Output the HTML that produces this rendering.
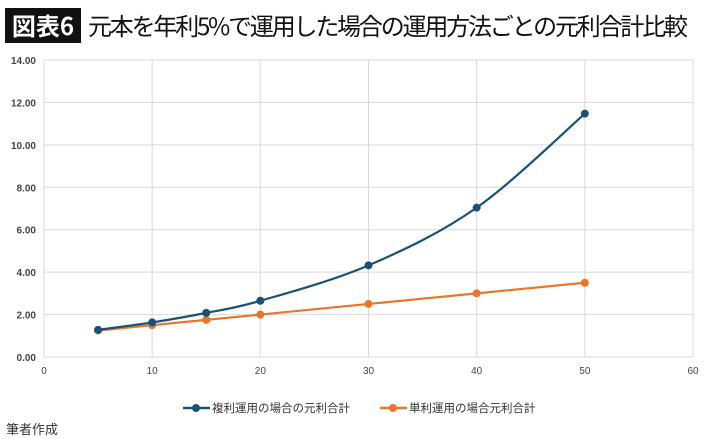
<!DOCTYPE html>
<html><head><meta charset="utf-8"><style>
body{margin:0;background:#fff;font-family:"Liberation Sans","Noto Sans CJK JP",sans-serif;}
#wrap{position:relative;width:710px;height:439px;overflow:hidden;background:#fff}
</style></head><body>
<div id="wrap">
<svg id="svg" width="710" height="439" xmlns="http://www.w3.org/2000/svg">
<rect x="5" y="8" width="76" height="35" fill="#111"/>
<text x="43" y="35" font-size="24" font-weight="bold" fill="#fff" text-anchor="middle" font-family="Noto Sans CJK JP, sans-serif">図表6</text>
<text x="88" y="35" font-size="24" fill="#111" font-family="Noto Sans CJK JP, sans-serif" textLength="600">元本を年利5%で運用した場合の運用方法ごとの元利合計比較</text>
<g id="grid"></g><g id="series"></g>
<g>
<g>
<line x1="183" y1="408" x2="210" y2="408" stroke="#1a5276" stroke-width="2.5"/><circle cx="196" cy="408" r="4" fill="#1a5276"/>
<text x="212" y="412" font-size="11.5" fill="#333" font-family="Noto Sans CJK JP, sans-serif">複利運用の場合の元利合計</text></g>
<g>
<line x1="380" y1="408" x2="407" y2="408" stroke="#e8762d" stroke-width="2.5"/><circle cx="393" cy="408" r="4" fill="#e8762d"/>
<text x="409" y="412" font-size="11.5" fill="#333" font-family="Noto Sans CJK JP, sans-serif">単利運用の場合元利合計</text></g>
</g>
<text x="6" y="434" font-size="13" fill="#333" font-family="Noto Sans CJK JP, sans-serif">筆者作成</text>
</svg></div>
<script>
const years=[5,10,15,20,30,40,50];
const compound=[1.28,1.63,2.08,2.65,4.32,7.04,11.47];
const simple=[1.25,1.5,1.75,2.0,2.5,3.0,3.5];
const xTicks=[0,10,20,30,40,50,60];
const yTicks=[0,2,4,6,8,10,12,14];
const NS="http://www.w3.org/2000/svg";
const X=v=>44+v*(693-44)/60, Y=v=>357-v*(357-60)/14;
const grid=document.getElementById('grid'), ser=document.getElementById('series');
function mk(t,a,p){const e=document.createElementNS(NS,t);for(const k in a)e.setAttribute(k,a[k]);p.appendChild(e);return e;}
yTicks.forEach(v=>{
 const l=mk('line',{x1:44,x2:693,y1:Y(v),y2:Y(v),stroke:'#d9d9d9','stroke-width':1},grid);
 
 
 const t=mk('text',{x:36,y:Y(v)+4,'font-size':10,'text-anchor':'end',fill:'#444','font-weight':'bold'},grid);
 t.textContent=v.toFixed(2);
 
 
});
xTicks.forEach(v=>{
 const l=mk('line',{x1:X(v),x2:X(v),y1:60,y2:357,stroke:'#d9d9d9','stroke-width':1},grid);
 
 
 const t=mk('text',{x:X(v),y:374,'font-size':10,'text-anchor':'middle',fill:'#444'},grid);
 t.textContent=v;
 
 
});
function smooth(pts){let d='M'+pts[0][0]+','+pts[0][1];
 for(let i=0;i<pts.length-1;i++){const p0=pts[i-1]||pts[i],p1=pts[i],p2=pts[i+1],p3=pts[i+2]||p2;
 const c1=[p1[0]+(p2[0]-p0[0])/6,p1[1]+(p2[1]-p0[1])/6],c2=[p2[0]-(p3[0]-p1[0])/6,p2[1]-(p3[1]-p1[1])/6];
 d+=' C'+c1+' '+c2+' '+p2;}return d;}
[[simple,'#e8762d','simple-interest'],[compound,'#1a5276','compound-interest']].forEach(([vals,c,n])=>{
 const pts=years.map((x,i)=>[X(x),Y(vals[i])]);
 const p=mk('path',{d:smooth(pts),fill:'none',stroke:c,'stroke-width':2.2},ser);
 
 
 pts.forEach(q=>{const m=mk('circle',{cx:q[0],cy:q[1],r:4,fill:c},ser);
 
 });
});
</script></body></html>
